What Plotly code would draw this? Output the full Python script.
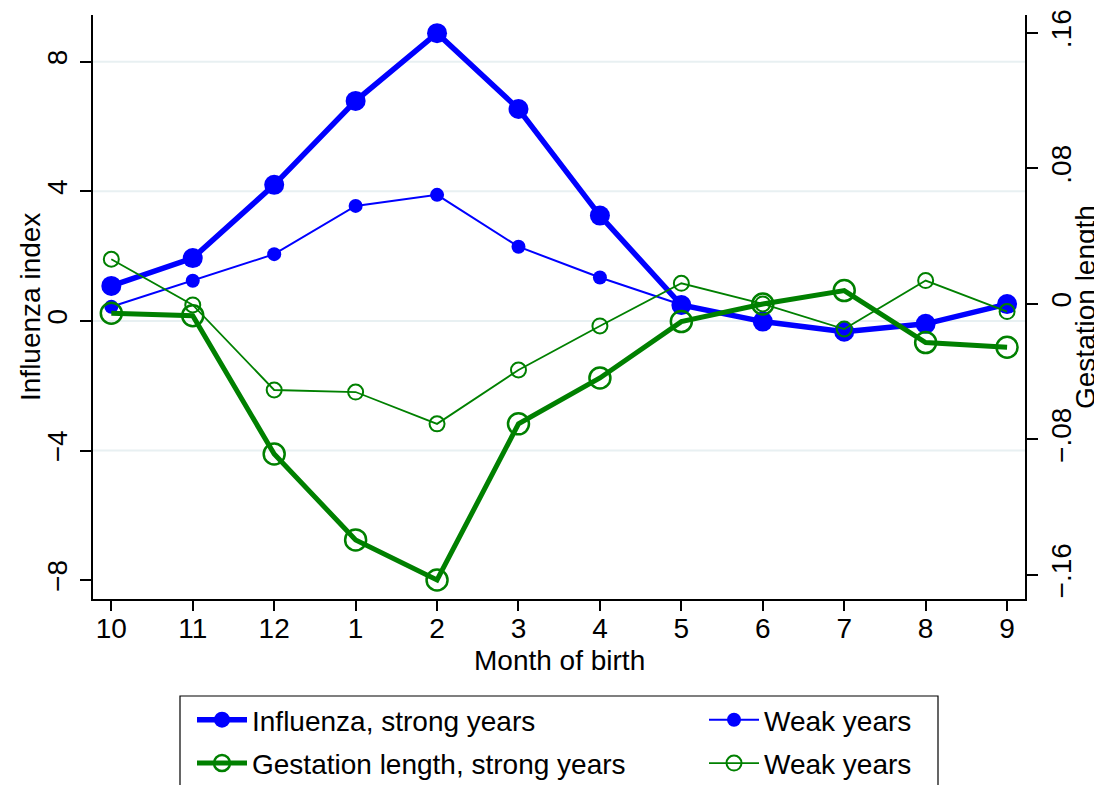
import plotly.graph_objects as go

# ---- data ----
months = ["10", "11", "12", "1", "2", "3", "4", "5", "6", "7", "8", "9"]
flu_strong = [1.08, 1.94, 4.20, 6.79, 8.88, 6.54, 3.25, 0.49, -0.02, -0.33, -0.09, 0.52]
flu_weak = [0.44, 1.24, 2.06, 3.55, 3.89, 2.29, 1.34, 0.50, 0.00, -0.30, -0.10, 0.48]
gest_strong = [-0.0055, -0.0069, -0.0886, -0.1393, -0.1630, -0.0708, -0.0437,
               -0.0104, 0.0000, 0.0079, -0.0228, -0.0256]
gest_weak = [0.0264, -0.0006, -0.0508, -0.0520, -0.0708, -0.0390, -0.0130,
             0.0122, 0.0000, -0.0148, 0.0138, -0.0045]
ref_month = "12"
left_ticks = [-8, -4, 0, 4, 8]
left_ticktext = ["\u22128", "\u22124", "0", "4", "8"]
right_ticks = [-0.16, -0.08, 0, 0.08, 0.16]
right_ticktext = ["\u2212.16", "\u2212.08", "0", ".08", ".16"]
grid_vals = [-4, 0, 4, 8]

BLUE = "#0000ff"
GREEN = "#008000"
FONT = "Liberation Sans, Arial, sans-serif"
FS = 28

# plot area in page pixels (page has an 8px body margin)
OFF = 8
PX0, PX1, PY0, PY1 = 93, 1025, 15, 599
PW, PH = PX1 - PX0, PY1 - PY0
W, H = 1102 - OFF, 785 - OFF


def px(x):
    return (x - PX0) / PW


def py(y):
    return (PY1 - y) / PH


fig = go.Figure()

fig.add_trace(go.Scatter(
    x=months, y=flu_strong, mode="lines+markers", name="Influenza, strong years",
    line=dict(color=BLUE, width=5.5), marker=dict(color=BLUE, size=20),
    legend="legend", legendgroup="a", yaxis="y"))
fig.add_trace(go.Scatter(
    x=months, y=flu_weak, mode="lines+markers", name="Weak years",
    line=dict(color=BLUE, width=2), marker=dict(color=BLUE, size=14),
    legend="legend2", legendgroup="b", yaxis="y"))
fig.add_trace(go.Scatter(
    x=months, y=gest_strong, mode="lines+markers", name="Gestation length, strong years",
    line=dict(color=GREEN, width=5), marker=dict(symbol="circle-open", color=GREEN, size=21,
                                                 line=dict(width=2.5, color=GREEN)),
    legend="legend", legendgroup="c", yaxis="y2"))
fig.add_trace(go.Scatter(
    x=months, y=gest_weak, mode="lines+markers", name="Weak years",
    line=dict(color=GREEN, width=1.8), marker=dict(symbol="circle-open", color=GREEN, size=15,
                                                   line=dict(width=2, color=GREEN)),
    legend="legend2", legendgroup="d", yaxis="y2"))

# grid lines
for g in grid_vals:
    fig.add_shape(type="line", xref="paper", x0=0, x1=1, yref="y", y0=g, y1=g,
                  line=dict(color="#e8f0f2", width=2), layer="below")

# vertical reference line
fig.add_shape(type="line", xref="x", x0=ref_month, x1=ref_month, yref="paper", y0=0, y1=1,
              line=dict(color="#cc1144", width=2), layer="below")

# legend box
fig.add_shape(type="rect", xref="paper", yref="paper",
              x0=px(180), x1=px(938), y0=py(696), y1=py(810),
              line=dict(color="black", width=1.2), fillcolor="rgba(0,0,0,0)")

# axis titles
fig.add_annotation(text="Influenza index", xref="paper", yref="paper", x=px(30), y=0.5,
                   textangle=-90, showarrow=False, xanchor="center", yanchor="middle",
                   font=dict(family=FONT, size=FS, color="black"))
fig.add_annotation(text="Gestation length", xref="paper", yref="paper", x=px(1085), y=0.5,
                   textangle=-90, showarrow=False, xanchor="center", yanchor="middle",
                   font=dict(family=FONT, size=FS, color="black"))
fig.add_annotation(text="Month of birth", xref="paper", yref="paper", x=0.5, y=py(660),
                   showarrow=False, xanchor="center", yanchor="middle",
                   font=dict(family=FONT, size=FS, color="black"))

axis_common = dict(showline=True, linecolor="black", linewidth=1.5, ticks="outside",
                   tickcolor="black", tickwidth=1.5, zeroline=False, showgrid=False,
                   automargin=False,
                   tickfont=dict(family=FONT, size=FS, color="black"))

fig.update_layout(
    width=W, height=H, autosize=False,
    margin=dict(l=PX0 - OFF, r=W - (PX1 - OFF), t=PY0 - OFF, b=H - (PY1 - OFF), pad=0,
                autoexpand=False),
    plot_bgcolor="white", paper_bgcolor="white",
    font=dict(family=FONT, size=FS, color="black"),
    showlegend=True,
    xaxis=dict(type="category", categoryorder="array", categoryarray=months,
               range=[-0.225, 11.22], ticklen=10, ticklabelstandoff=-6, **axis_common),
    yaxis=dict(range=[-8.58, 9.44], tickvals=left_ticks, ticktext=left_ticktext, tickangle=-90,
               ticklen=11, ticklabelstandoff=2, **axis_common),
    yaxis2=dict(range=[-0.1742, 0.1706], tickvals=right_ticks, ticktext=right_ticktext,
                tickangle=-90, overlaying="y", side="right", ticklen=11, **axis_common),
    legend=dict(x=px(192), y=py(695), xanchor="left", yanchor="top",
                orientation="v", itemwidth=50, tracegroupgap=4, bgcolor="rgba(0,0,0,0)",
                font=dict(family=FONT, size=FS)),
    legend2=dict(x=px(704), y=py(695), xanchor="left", yanchor="top",
                 orientation="v", itemwidth=50, tracegroupgap=4, bgcolor="rgba(0,0,0,0)",
                 font=dict(family=FONT, size=FS)),
)

fig.write_html("out.html")
